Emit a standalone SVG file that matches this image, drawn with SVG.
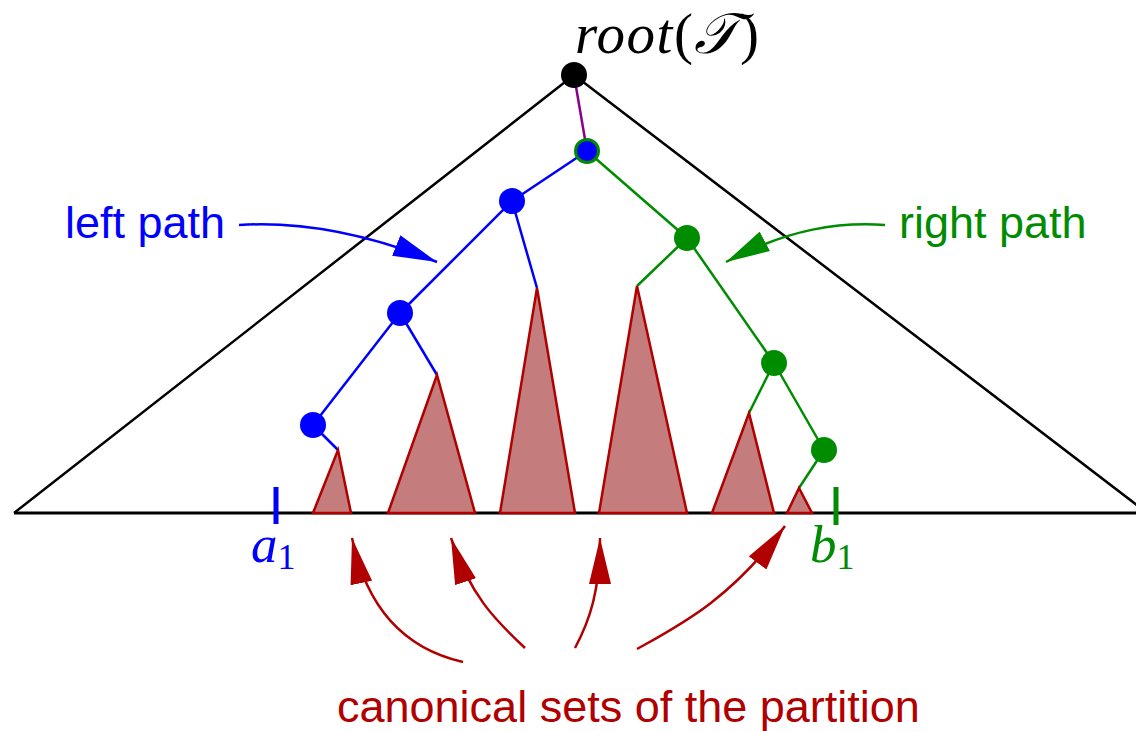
<svg xmlns="http://www.w3.org/2000/svg" width="1136" height="731" viewBox="0 0 1136 731">
<style>
.frame{fill:none;stroke:#000;stroke-width:2.5;stroke-linejoin:round}
.bl{stroke:#0000ff;stroke-width:2.5;fill:none}
.gr{stroke:#008c00;stroke-width:2.5;fill:none}
.pu{stroke:#8b008b;stroke-width:2.5;fill:none}
.set{fill:#c47c7c;stroke:#b00000;stroke-width:2.5;stroke-linejoin:miter}
.nb{fill:#0000ff}
.ng{fill:#008c00}
.arB{stroke:#0000ff;stroke-width:2.5;fill:none;marker-end:url(#hB)}
.arG{stroke:#008c00;stroke-width:2.5;fill:none;marker-end:url(#hG)}
.arR{stroke:#b00000;stroke-width:2.5;fill:none;marker-end:url(#hR)}
.lab{font-family:"Liberation Sans",Arial,sans-serif;font-size:45px}
.math{font-family:"Liberation Serif","DejaVu Serif",serif;font-style:italic}
</style>
<defs>
<marker id="hB" viewBox="0 0 44 22" refX="44" refY="11" markerWidth="44" markerHeight="22" markerUnits="userSpaceOnUse" orient="auto"><path d="M0,0 L44,11 L0,22 z" fill="#0000ff"/></marker>
<marker id="hG" viewBox="0 0 44 22" refX="44" refY="11" markerWidth="44" markerHeight="22" markerUnits="userSpaceOnUse" orient="auto"><path d="M0,0 L44,11 L0,22 z" fill="#008c00"/></marker>
<marker id="hR" viewBox="0 0 46 22" refX="46" refY="11" markerWidth="46" markerHeight="22" markerUnits="userSpaceOnUse" orient="auto"><path d="M0,0 L46,11 L0,22 z" fill="#b00000"/></marker>
</defs>
<rect width="1136" height="731" fill="#fff"/>
<g id="tree-outline">
<path class="frame" d="M14,513 L574,75 L1150,515"/>
<line x1="14" y1="513" x2="1136" y2="513" stroke="#000" stroke-width="3"/>
</g>
<g id="connectors">
<line class="pu" x1="574" y1="75" x2="587" y2="151"/>
<line class="bl" x1="587" y1="151" x2="512" y2="201"/>
<line class="gr" x1="587" y1="151" x2="687" y2="238"/>
<line class="bl" x1="512" y1="201" x2="400" y2="313"/>
<line class="bl" x1="512" y1="201" x2="537" y2="288"/>
<line class="bl" x1="400" y1="313" x2="313" y2="425"/>
<line class="bl" x1="400" y1="313" x2="437" y2="375"/>
<line class="bl" x1="313" y1="425" x2="338" y2="450"/>
<line class="gr" x1="687" y1="238" x2="637" y2="286"/>
<line class="gr" x1="687" y1="238" x2="774" y2="363"/>
<line class="gr" x1="774" y1="363" x2="749" y2="413"/>
<line class="gr" x1="774" y1="363" x2="824" y2="450"/>
<line class="gr" x1="824" y1="450" x2="799" y2="488"/>
</g>
<g id="canonical-sets">
<polygon class="set" points="313,513 338,450 351,513"/>
<polygon class="set" points="388,513 437,375 475,513"/>
<polygon class="set" points="500,513 537,288 575,513"/>
<polygon class="set" points="599,513 637,286 687,513"/>
<polygon class="set" points="712,513 749,413 774,513"/>
<polygon class="set" points="787,513 799,488 812,513"/>
</g>
<g id="root"><circle cx="574" cy="75" r="13" fill="#000"/></g>
<g id="split-node"><circle cx="587" cy="151" r="11.5" fill="#0000ff" stroke="#008c00" stroke-width="3"/></g>
<g id="left-nodes">
<circle class="nb" cx="512" cy="201" r="13"/>
<circle class="nb" cx="400" cy="313" r="13"/>
<circle class="nb" cx="313" cy="425" r="13"/>
</g>
<g id="right-nodes">
<circle class="ng" cx="687" cy="238" r="13"/>
<circle class="ng" cx="774" cy="363" r="13"/>
<circle class="ng" cx="824" cy="450" r="13"/>
</g>
<g id="ticks">
<line x1="276" y1="487" x2="276" y2="524" stroke="#0000ff" stroke-width="5"/>
<line x1="836" y1="487" x2="836" y2="525" stroke="#008c00" stroke-width="5"/>
</g>
<g id="arrows">
<path class="arB" d="M239,225 C320,220 395,245 437,262"/>
<path class="arG" d="M885,225 C840,222 790,228 726,262"/>
<path class="arR" d="M463,662 C410,650 368,615 352,538"/>
<path class="arR" d="M525,648 C495,620 470,595 451,538"/>
<path class="arR" d="M575,648 C590,620 600,590 600,538"/>
<path class="arR" d="M637,649 C680,625 730,600 785,526"/>
</g>
<g id="labels">
<text class="math" x="575" y="53" font-size="57" letter-spacing="1.5">root<tspan font-style="normal">(</tspan>𝒯<tspan font-style="normal">)</tspan></text>
<text class="math" x="251" y="562" font-size="53" fill="#0000ff">a<tspan font-style="normal" font-size="36" dy="7">1</tspan></text>
<text class="math" x="810" y="562" font-size="53" fill="#008c00">b<tspan font-style="normal" font-size="36" dy="7">1</tspan></text>
<text class="lab" x="65" y="238" fill="#0000ff">left path</text>
<text class="lab" x="899" y="238" fill="#008c00">right path</text>
<text class="lab" x="337" y="722" fill="#b00000">canonical sets of the partition</text>
</g>
</svg>
